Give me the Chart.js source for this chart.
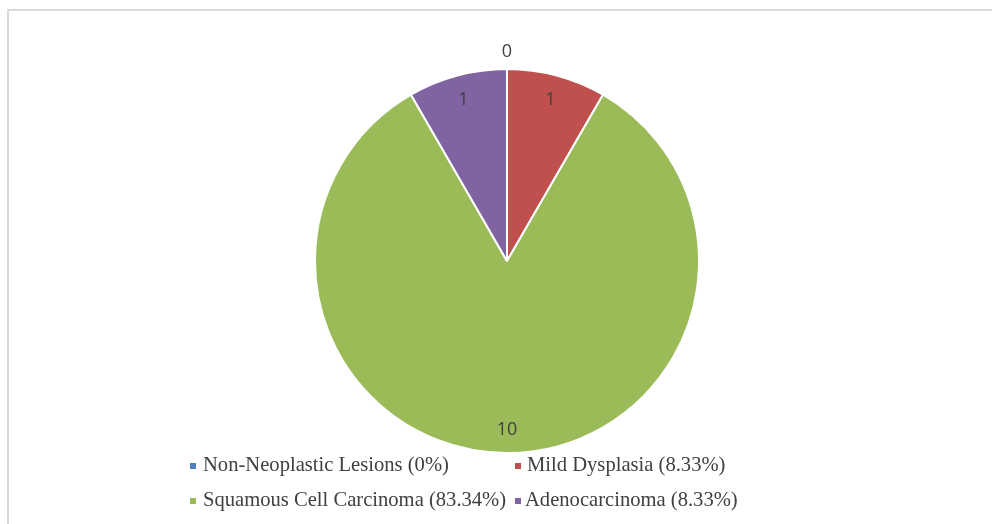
<!DOCTYPE html>
<html>
<head>
<meta charset="utf-8">
<script src="https://cdn.jsdelivr.net/npm/chart.js@4"></script>
<style>
  html, body { margin: 0; padding: 0; background: #ffffff; }
  #wrap { position: relative; width: 992px; height: 524px; }
</style>
</head>
<body>
<div id="wrap"><canvas id="c" width="992" height="524"></canvas></div>
<script>
// Lesion categories and case counts
const categories = ['Non-Neoplastic Lesions', 'Mild Dysplasia', 'Squamous Cell Carcinoma', 'Adenocarcinoma'];
const counts = [0, 1, 10, 1];
const legendLabels = ['Non-Neoplastic Lesions (0%)', 'Mild Dysplasia (8.33%)', 'Squamous Cell Carcinoma (83.34%)', 'Adenocarcinoma (8.33%)'];
const sliceColors = ['#4F81BD', '#C0504D', '#9BBB59', '#8064A2'];

// Light frame along the top and left edges
const framePlugin = {
  id: 'frame',
  beforeDraw(chart) {
    const ctx = chart.ctx;
    ctx.save();
    ctx.fillStyle = '#ffffff';
    ctx.fillRect(0, 0, chart.width, chart.height);
    ctx.strokeStyle = '#dadada';
    ctx.lineWidth = 2;
    ctx.beginPath();
    ctx.moveTo(8, chart.height);
    ctx.lineTo(8, 10);
    ctx.lineTo(chart.width, 10);
    ctx.stroke();
    ctx.restore();
  }
};

// Count labels: inside each slice, zero-size slices just outside the rim
const valueLabelPlugin = {
  id: 'valueLabels',
  afterDatasetsDraw(chart) {
    const ctx = chart.ctx;
    const meta = chart.getDatasetMeta(0);
    ctx.save();
    ctx.font = '18px "Open Sans", "Liberation Sans", sans-serif';
    ctx.fillStyle = '#404040';
    ctx.textAlign = 'center';
    ctx.textBaseline = 'middle';
    meta.data.forEach((arc, i) => {
      const p = arc.getProps(['x', 'y', 'startAngle', 'endAngle', 'outerRadius'], true);
      const mid = (p.startAngle + p.endAngle) / 2;
      const r = counts[i] === 0 ? p.outerRadius + 18 : p.outerRadius * 0.875;
      ctx.fillText(String(counts[i]), p.x + Math.cos(mid) * r, p.y + Math.sin(mid) * r + 1);
    });
    ctx.restore();
  }
};

// Two-column legend under the pie
const legendPlugin = {
  id: 'gridLegend',
  afterDraw(chart) {
    const ctx = chart.ctx;
    const slots = [[190, 466, 203], [515, 466, 527], [190, 501, 203], [515, 501, 525]];
    ctx.save();
    ctx.font = '20.6px "Liberation Serif", "Times New Roman", serif';
    ctx.textBaseline = 'middle';
    ctx.textAlign = 'left';
    legendLabels.forEach((txt, i) => {
      const [x, y, tx] = slots[i];
      ctx.fillStyle = chart.data.datasets[0].backgroundColor[i];
      ctx.fillRect(x, y - 3, 6, 6);
      ctx.fillStyle = '#404040';
      ctx.fillText(txt, tx, y);
    });
    ctx.restore();
  }
};

new Chart(document.getElementById('c'), {
  type: 'pie',
  data: {
    labels: categories,
    datasets: [{
      data: counts,
      backgroundColor: sliceColors,
      borderColor: '#ffffff',
      borderWidth: 2
    }]
  },
  options: {
    responsive: false,
    animation: false,
    layout: { padding: { top: 68, bottom: 70, left: 314, right: 292 } },
    plugins: {
      legend: { display: false },
      tooltip: { enabled: false }
    }
  },
  plugins: [framePlugin, valueLabelPlugin, legendPlugin]
});
</script>
</body>
</html>
